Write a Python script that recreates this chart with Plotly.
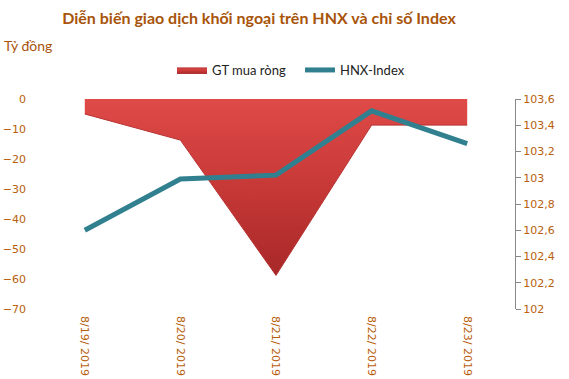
import plotly.graph_objects as go

dates = ["8/19/ 2019", "8/20/ 2019", "8/21/ 2019", "8/22/ 2019", "8/23/ 2019"]
gt_mua_rong = [-5.0, -13.7, -58.8, -8.7, -8.7]
hnx_index = [102.60, 102.99, 103.02, 103.51, 103.26]

left_ticks = [0, -10, -20, -30, -40, -50, -60, -70]
right_ticks = [102.0, 102.2, 102.4, 102.6, 102.8, 103.0, 103.2, 103.4, 103.6]
right_labels = ["102", "102,2", "102,4", "102,6", "102,8", "103", "103,2", "103,4", "103,6"]

txt_color = "#B8600C"
title_color = "#A8540A"

fig = go.Figure()
fig.add_trace(go.Scatter(
    x=dates, y=gt_mua_rong, name="GT mua ròng", mode="lines",
    line=dict(color="#B83030", width=1),
    fill="tozeroy",
    fillgradient=dict(type="vertical",
                      colorscale=[[0, "#A82828"], [0.6, "#CC3C3A"], [1, "#DE4A48"]]),
    yaxis="y",
))
fig.add_trace(go.Scatter(
    x=dates, y=hnx_index, name="HNX-Index", mode="lines",
    line=dict(color="#31808F", width=5),
    yaxis="y2",
))

fig.update_layout(
    width=569, height=379,
    margin=dict(l=37, r=54, t=99, b=70),
    paper_bgcolor="white", plot_bgcolor="white",
    title=dict(text="<b>Diễn biến giao dịch khối ngoại trên HNX và chỉ số Index</b>",
               x=259/569, xanchor="center", y=0.952, yanchor="middle",
               font=dict(family="Lato", size=16, color=title_color)),
    font=dict(family="DejaVu Sans", size=11, color=txt_color),
    showlegend=True,
    legend=dict(orientation="h", x=(177-37-5)/478, xanchor="left",
                y=1 + (99-70)/210, yanchor="middle",
                font=dict(family="Lato", size=13, color="#222222"),
                itemwidth=30, entrywidth=83),
    xaxis=dict(type="category", range=[-0.5, 4.5], showgrid=False, showline=False,
               ticks="", tickangle=90, ticklabelstandoff=6, automargin=False,
               tickfont=dict(family="DejaVu Sans", size=11, color=txt_color)),
    yaxis=dict(range=[-70, 0], tickvals=left_ticks, showgrid=False, showline=False,
               zeroline=False, ticks="", ticklabelstandoff=10, automargin=False,
               tickfont=dict(family="DejaVu Sans", size=11, color=txt_color)),
    yaxis2=dict(range=[102, 103.6], overlaying="y", side="right",
                tickvals=right_ticks, ticktext=right_labels, automargin=False,
                showgrid=False, showline=True, linecolor="#888888", linewidth=1,
                ticks="outside", ticklen=5, tickcolor="#888888", zeroline=False,
                tickfont=dict(family="DejaVu Sans", size=11, color=txt_color)),
)
fig.add_annotation(text="Tỷ đồng", xref="paper", yref="paper",
                   x=-35/478, y=1 + (99-45)/210, xanchor="left", yanchor="middle",
                   showarrow=False,
                   font=dict(family="Lato", size=14, color=title_color))

fig.write_html("out.html")
